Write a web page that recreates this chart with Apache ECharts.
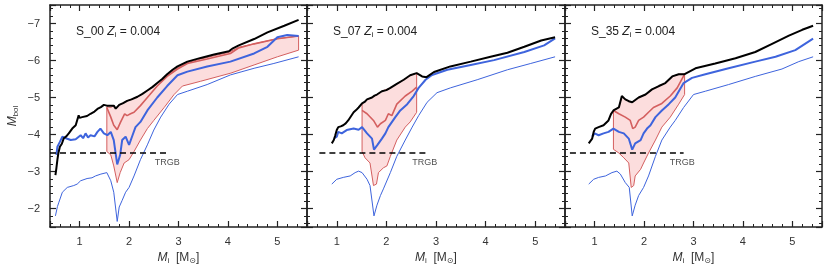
<!DOCTYPE html>
<html><head><meta charset="utf-8">
<script src="https://cdn.jsdelivr.net/npm/echarts@6/dist/echarts.min.js"></script>
<style>html,body{margin:0;padding:0;background:#fff}#c{width:830px;height:270px}</style>
</head><body><div id="c"></div>
<script>
// ---------- data (initial mass M_i, M_bol) ----------
const panelNames = ['S_00', 'S_07', 'S_35'];
const metallicity = '0.004';
const xTickLabels = [1, 2, 3, 4, 5];
const yTickLabels = [-7, -6, -5, -4, -3, -2];
const trgbLevel = -3.5;
const trgbStart = [0.4, 0.65, 0.5];
const trgbEnd = [2.8, 2.8, 2.8];
const trgbLabelAt = [2.52, 2.52, 2.52];

// panel S_00
const s00_black = [[0.51,-2.9],[0.53,-3.1],[0.55,-3.32],[0.57,-3.5],[0.6,-3.67],[0.64,-3.75],[0.68,-3.9],[0.73,-3.95],[0.78,-4.03],[0.85,-4.16],[0.92,-4.25],[0.96,-4.3],[0.98,-4.52],[1.0,-4.45],[1.05,-4.47],[1.09,-4.42],[1.15,-4.5],[1.22,-4.56],[1.3,-4.62],[1.36,-4.69],[1.43,-4.74],[1.49,-4.8],[1.55,-4.78],[1.6,-4.78],[1.63,-4.73],[1.69,-4.78],[1.73,-4.7],[1.8,-4.8],[1.88,-4.85],[1.96,-4.91],[2.05,-4.95],[2.17,-5.02],[2.27,-5.1],[2.37,-5.19],[2.47,-5.28],[2.57,-5.39],[2.67,-5.5],[2.77,-5.63],[2.88,-5.75],[2.98,-5.84],[3.18,-5.97],[3.45,-6.07],[3.72,-6.16],[4.02,-6.25],[4.1,-6.33],[4.22,-6.41],[4.53,-6.58],[4.8,-6.76],[5.14,-6.94],[5.43,-7.1]];
const s00_blue = [[0.53,-3.45],[0.55,-3.67],[0.6,-3.8],[0.65,-3.94],[0.72,-3.9],[0.82,-3.85],[0.92,-3.87],[1.02,-3.98],[1.07,-3.9],[1.12,-4.03],[1.17,-3.92],[1.22,-3.98],[1.3,-3.95],[1.36,-4.07],[1.42,-4.16],[1.49,-4.03],[1.56,-3.98],[1.63,-4.07],[1.69,-3.85],[1.76,-3.19],[1.82,-3.45],[1.86,-3.85],[1.93,-3.94],[2.0,-3.72],[2.07,-3.98],[2.13,-4.2],[2.23,-4.34],[2.37,-4.65],[2.57,-5.0],[2.77,-5.31],[2.98,-5.6],[3.18,-5.7],[3.58,-5.84],[4.05,-5.97],[4.53,-6.19],[4.8,-6.37],[5.0,-6.63],[5.2,-6.69],[5.43,-6.66]];
const s00_blueThin = [[0.51,-1.8],[0.55,-2.05],[0.58,-2.17],[0.65,-2.44],[0.75,-2.57],[0.88,-2.62],[0.95,-2.66],[1.02,-2.75],[1.15,-2.81],[1.25,-2.83],[1.32,-2.88],[1.43,-2.93],[1.55,-2.97],[1.63,-2.75],[1.69,-2.44],[1.76,-1.65],[1.8,-2.04],[1.86,-2.22],[1.93,-2.44],[2.0,-2.57],[2.1,-2.88],[2.23,-3.32],[2.37,-3.72],[2.5,-4.12],[2.64,-4.47],[2.81,-4.82],[2.98,-5.08],[3.18,-5.17],[3.58,-5.35],[4.05,-5.61],[4.53,-5.79],[4.93,-5.92],[5.43,-6.1]];
const s00_red = [[1.55,-4.73],[1.63,-4.47],[1.69,-4.25],[1.76,-4.13],[1.83,-4.34],[1.91,-4.56],[1.96,-4.51],[2.03,-4.56],[2.1,-4.6],[2.23,-4.78],[2.37,-5.0],[2.57,-5.31],[2.77,-5.57],[2.98,-5.77],[3.18,-5.92],[3.58,-6.04],[4.05,-6.19],[4.22,-6.34],[4.53,-6.45],[5.0,-6.59],[5.43,-6.66]];
const s00_bandTop = [[1.55,-4.75],[1.63,-4.73],[1.69,-4.78],[1.73,-4.7],[1.8,-4.8],[1.96,-4.91],[2.17,-5.02],[2.37,-5.19],[2.57,-5.39],[2.77,-5.6],[2.98,-5.8],[3.18,-5.94],[3.45,-6.04],[3.72,-6.13],[4.02,-6.22],[4.22,-6.36],[4.53,-6.45],[5.0,-6.59],[5.43,-6.66]];
const s00_bandLow = [[1.55,-3.54],[1.63,-3.45],[1.69,-3.15],[1.76,-2.7],[1.82,-2.97],[1.9,-3.23],[2.0,-3.32],[2.1,-3.54],[2.23,-3.85],[2.37,-4.16],[2.5,-4.38],[2.71,-4.73],[2.91,-5.08],[3.08,-5.31],[3.45,-5.44],[4.06,-5.66],[4.53,-5.88],[5.0,-6.1],[5.43,-6.28]];

// panel S_07
const s07_black = [[0.9,-3.76],[0.94,-3.85],[0.97,-3.98],[1.0,-4.12],[1.03,-4.2],[1.08,-4.22],[1.13,-4.25],[1.18,-4.3],[1.23,-4.38],[1.29,-4.5],[1.34,-4.6],[1.39,-4.66],[1.44,-4.73],[1.51,-4.84],[1.56,-4.88],[1.61,-4.95],[1.71,-5.0],[1.76,-5.05],[1.81,-5.08],[1.91,-5.17],[2.0,-5.2],[2.08,-5.26],[2.21,-5.37],[2.35,-5.48],[2.48,-5.6],[2.61,-5.66],[2.72,-5.57],[2.81,-5.55],[2.96,-5.69],[3.29,-5.84],[3.7,-5.97],[4.1,-6.1],[4.44,-6.21],[4.78,-6.37],[5.12,-6.54],[5.4,-6.63]];
const s07_blue = [[0.95,-3.9],[1.0,-3.94],[1.03,-4.07],[1.1,-4.03],[1.2,-4.12],[1.34,-4.16],[1.44,-4.13],[1.51,-4.2],[1.61,-4.03],[1.71,-3.89],[1.75,-3.59],[1.82,-3.72],[1.91,-3.89],[1.98,-4.03],[2.04,-4.2],[2.08,-4.25],[2.18,-4.47],[2.28,-4.65],[2.42,-4.82],[2.55,-5.04],[2.65,-5.26],[2.79,-5.48],[2.92,-5.61],[3.23,-5.75],[3.7,-5.88],[4.17,-6.01],[4.78,-6.23],[5.18,-6.41],[5.4,-6.6]];
const s07_blueThin = [[0.9,-2.66],[1.0,-2.79],[1.13,-2.84],[1.27,-2.88],[1.37,-2.97],[1.44,-3.01],[1.51,-2.97],[1.61,-2.79],[1.67,-2.62],[1.75,-1.8],[1.81,-2.09],[1.88,-2.35],[1.94,-2.53],[2.08,-2.97],[2.21,-3.41],[2.38,-3.85],[2.52,-4.2],[2.65,-4.51],[2.82,-4.87],[3.02,-5.13],[3.29,-5.26],[3.83,-5.48],[4.44,-5.75],[4.91,-5.92],[5.4,-6.1]];
const s07_red = [[1.51,-4.65],[1.61,-4.56],[1.74,-4.38],[1.82,-4.2],[1.88,-4.29],[1.98,-4.38],[2.04,-4.56],[2.11,-4.51],[2.21,-4.82],[2.38,-5.04],[2.52,-5.17],[2.61,-5.28]];
const s07_bandTop = [[1.51,-4.84],[1.56,-4.88],[1.61,-4.95],[1.71,-5.0],[1.81,-5.08],[1.91,-5.17],[2.08,-5.26],[2.21,-5.37],[2.35,-5.48],[2.48,-5.6],[2.61,-5.66]];
const s07_bandLow = [[1.51,-3.54],[1.57,-3.37],[1.67,-3.23],[1.74,-2.62],[1.8,-2.66],[1.84,-2.97],[1.94,-3.1],[2.01,-3.15],[2.08,-3.41],[2.21,-3.85],[2.38,-4.2],[2.48,-4.34],[2.61,-4.6]];

// panel S_35
const s35_black = [[0.88,-3.76],[0.95,-3.89],[0.98,-4.07],[1.01,-4.16],[1.05,-4.12],[1.08,-4.2],[1.18,-4.25],[1.28,-4.38],[1.33,-4.55],[1.38,-4.65],[1.49,-4.73],[1.55,-5.04],[1.62,-4.95],[1.69,-4.9],[1.76,-4.87],[1.89,-5.0],[2.03,-5.08],[2.16,-5.22],[2.3,-5.31],[2.43,-5.39],[2.57,-5.57],[2.7,-5.63],[2.82,-5.63],[3.04,-5.79],[3.44,-5.92],[3.85,-6.06],[4.25,-6.23],[4.59,-6.45],[4.93,-6.67],[5.2,-6.83],[5.42,-6.94]];
const s35_blue = [[0.95,-3.94],[1.0,-4.03],[1.08,-3.98],[1.18,-4.03],[1.28,-4.07],[1.38,-4.16],[1.49,-4.07],[1.59,-4.03],[1.69,-3.89],[1.76,-3.59],[1.82,-3.76],[1.93,-3.85],[1.99,-4.03],[2.06,-4.16],[2.13,-4.25],[2.23,-4.47],[2.36,-4.65],[2.5,-4.82],[2.63,-5.0],[2.8,-5.39],[2.97,-5.53],[3.24,-5.63],[3.71,-5.79],[4.25,-5.97],[4.66,-6.1],[5.06,-6.28],[5.42,-6.59]];
const s35_blueThin = [[0.88,-2.66],[0.98,-2.79],[1.08,-2.84],[1.22,-2.88],[1.35,-2.97],[1.45,-3.01],[1.52,-2.93],[1.62,-2.7],[1.7,-2.57],[1.76,-1.8],[1.82,-2.09],[1.89,-2.35],[1.99,-2.57],[2.09,-2.88],[2.23,-3.41],[2.36,-3.85],[2.53,-4.2],[2.63,-4.38],[2.8,-4.73],[3.0,-5.08],[3.24,-5.17],[3.71,-5.35],[4.25,-5.57],[4.79,-5.77],[5.13,-5.97],[5.42,-6.1]];
const s35_red = [[1.38,-4.65],[1.49,-4.56],[1.62,-4.47],[1.72,-4.38],[1.77,-4.16],[1.82,-4.2],[1.89,-4.38],[1.99,-4.47],[2.09,-4.6],[2.19,-4.73],[2.36,-4.84],[2.53,-5.04],[2.67,-5.26],[2.82,-5.63]];
const s35_bandTop = [[1.38,-4.65],[1.49,-4.73],[1.55,-5.02],[1.62,-4.95],[1.76,-4.87],[1.89,-5.0],[2.03,-5.08],[2.16,-5.22],[2.3,-5.31],[2.43,-5.39],[2.57,-5.57],[2.7,-5.63],[2.82,-5.63]];
const s35_bandLow = [[1.38,-3.6],[1.49,-3.5],[1.59,-3.37],[1.69,-3.23],[1.74,-2.57],[1.79,-2.62],[1.82,-2.88],[1.93,-3.06],[1.99,-3.23],[2.09,-3.5],[2.23,-3.85],[2.36,-4.2],[2.53,-4.47],[2.7,-4.82],[2.82,-5.08]];

const panels = [
  {black: s00_black, blue: s00_blue, blueThin: s00_blueThin, red: s00_red, top: s00_bandTop, low: s00_bandLow},
  {black: s07_black, blue: s07_blue, blueThin: s07_blueThin, red: s07_red, top: s07_bandTop, low: s07_bandLow},
  {black: s35_black, blue: s35_blue, blueThin: s35_blueThin, red: s35_red, top: s35_bandTop, low: s35_bandLow}
];

// ---------- layout / style ----------
const FONT = 'Liberation Sans';
const frame = '#222';
const gridsPx = [{left: 50, width: 257}, {left: 307, width: 258}, {left: 565, width: 257}];
const X_MIN = 0.4, X_MAX = 5.6, Y_MIN = -7.5, Y_MAX = -1.5;
const BLUE = '#3e64dd', RED = '#d45f5f', FILL = 'rgba(244,120,120,0.25)';

function fmtMinus(v) { return String(v).replace('-', '\u2212'); }

const grid = [], xAxis = [], yAxis = [], series = [];
function axisCommon() {
  return {
    axisLine: {show: true, lineStyle: {color: frame, width: 1.5}},
    axisTick: {show: true, inside: true, length: 6, lineStyle: {color: frame, width: 1.2}},
    minorTick: {show: true, inside: true, splitNumber: 5, length: 3, lineStyle: {color: frame, width: 1}},
    splitLine: {show: false}, minorSplitLine: {show: false}
  };
}
gridsPx.forEach(g => {
  grid.push({left: g.left, width: g.width, top: 5, height: 227, containLabel: false});
});
// bottom x axes 0..2
gridsPx.forEach((g, i) => {
  xAxis.push(Object.assign(axisCommon(), {
    type: 'value', gridIndex: i, position: 'bottom', min: X_MIN, max: X_MAX, splitNumber: 5,
    axisLabel: {show: true, margin: 9, color: '#333', fontFamily: FONT, fontSize: 11,
      formatter: v => (xTickLabels.indexOf(Math.round(v * 1000) / 1000) >= 0 ? String(v) : '')},
    name: '{m|M}{s|i}  [M{sun|\u2299}]', nameLocation: 'middle', nameGap: 24,
    nameTextStyle: {fontFamily: FONT, fontSize: 12, color: '#333',
      rich: {m: {fontStyle: 'italic', fontSize: 12, fontFamily: FONT, color: '#333'},
             s: {fontSize: 8, verticalAlign: 'bottom', padding: [6, 0, 0, 0], fontFamily: FONT, color: '#333'},
             sun: {fontSize: 8, verticalAlign: 'bottom', padding: [6, 0, 0, 0], fontFamily: 'DejaVu Sans', color: '#333'}}}
  }));
});
// top mirror x axes 3..5
gridsPx.forEach((g, i) => {
  xAxis.push(Object.assign(axisCommon(), {
    type: 'value', gridIndex: i, position: 'top', min: X_MIN, max: X_MAX, splitNumber: 5,
    axisLabel: {show: false}
  }));
});
// left y axes 0..2
gridsPx.forEach((g, i) => {
  const a = Object.assign(axisCommon(), {
    type: 'value', gridIndex: i, position: 'left', inverse: true, min: Y_MIN, max: Y_MAX, splitNumber: 6,
    axisLabel: {show: i === 0, margin: 10, color: '#333', fontFamily: FONT, fontSize: 11,
      formatter: v => (yTickLabels.indexOf(Math.round(v * 1000) / 1000) >= 0 ? fmtMinus(v) : '')}
  });
  if (i === 0) {
    a.name = '{m|M}{s|bol}';
    a.nameLocation = 'middle';
    a.nameGap = 30;
    a.nameRotate = 90;
    a.nameTextStyle = {fontFamily: FONT, fontSize: 12, color: '#333',
      rich: {m: {fontStyle: 'italic', fontSize: 12, fontFamily: FONT, color: '#333'},
             s: {fontSize: 8, verticalAlign: 'bottom', padding: [6, 0, 0, 0], fontFamily: FONT, color: '#333'}}};
  }
  yAxis.push(a);
});
// right mirror y axes 3..5
gridsPx.forEach((g, i) => {
  yAxis.push(Object.assign(axisCommon(), {
    type: 'value', gridIndex: i, position: 'right', inverse: true, min: Y_MIN, max: Y_MAX, splitNumber: 6,
    axisLabel: {show: false}
  }));
});

panels.forEach((p, i) => {
  // shaded band (polygon between top and low edges, converted through the axes)
  series.push({
    type: 'custom', xAxisIndex: i, yAxisIndex: i, silent: true, z: 1,
    data: [p.top[0]],
    renderItem: (params, api) => {
      const pts = p.top.map(d => api.coord(d)).concat(p.low.slice().reverse().map(d => api.coord(d)));
      return {type: 'polygon', shape: {points: pts},
        style: {fill: FILL, stroke: RED, lineWidth: 1}};
    }
  });
  const line = (data, color, width, z, extra) => Object.assign({
    type: 'line', xAxisIndex: i, yAxisIndex: i, data: data, showSymbol: false, symbol: 'none',
    lineStyle: {color: color, width: width}, z: z, silent: true, animation: false
  }, extra || {});
  series.push(line(p.red, RED, 1.6, 3));
  series.push(line(p.blueThin, BLUE, 1, 4));
  series.push(line(p.blue, BLUE, 2, 5));
  series.push(line(p.black, '#000', 2, 6));
  series.push(line([[trgbStart[i], trgbLevel], [trgbEnd[i], trgbLevel]], '#000', 1.5, 7,
    {lineStyle: {color: '#000', width: 1.5, type: [6, 4]}}));
  series.push({
    type: 'scatter', xAxisIndex: i, yAxisIndex: i, symbol: 'circle', symbolSize: 1,
    itemStyle: {color: 'rgba(0,0,0,0)'}, silent: true, z: 8,
    data: [[trgbLabelAt[i], trgbLevel]],
    label: {show: true, formatter: 'TRGB', position: 'bottom', distance: 5, align: 'left',
      fontFamily: FONT, fontSize: 9, color: '#222'}
  });
});

const graphic = gridsPx.map((g, i) => ({
  type: 'text', left: g.left + 26, top: 26,
  style: {
    text: '{n|' + panelNames[i] + ' }{z|Z}{s|i}{n| = ' + metallicity + '}',
    rich: {n: {fontFamily: FONT, fontSize: 12, fill: '#222'},
           z: {fontFamily: FONT, fontSize: 12, fontStyle: 'italic', fill: '#222'},
           s: {fontFamily: FONT, fontSize: 8, fill: '#222', verticalAlign: 'bottom', padding: [6, 0, 0, 0]}}
  }
}));

const chart = echarts.init(document.getElementById('c'), null, {renderer: 'canvas'});
chart.setOption({animation: false, backgroundColor: '#fff', grid, xAxis, yAxis, series, graphic});
</script>
</body></html>
